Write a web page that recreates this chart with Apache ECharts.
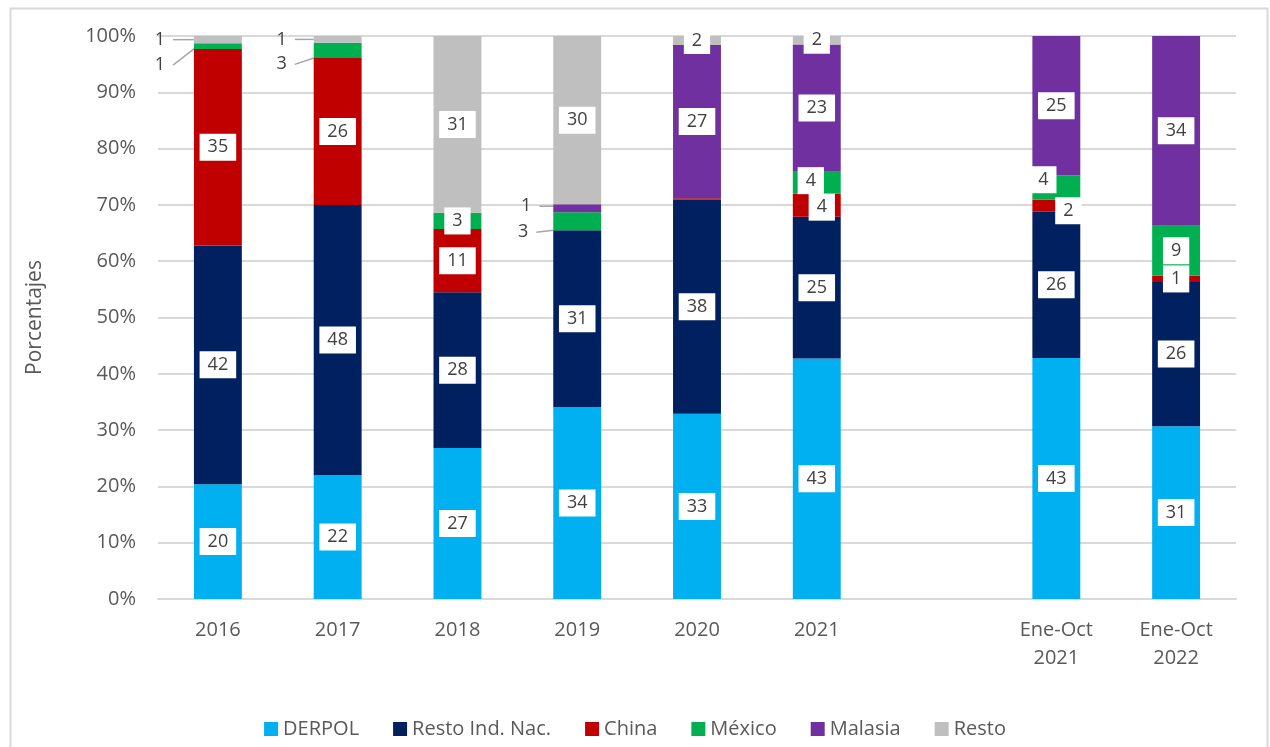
<!DOCTYPE html>
<html>
<head>
<meta charset="utf-8">
<script src="https://cdn.jsdelivr.net/npm/echarts@6/dist/echarts.min.js"></script>
<style>
  html, body { margin: 0; padding: 0; background: #fff; }
  #chart { width: 1270px; height: 747px; }
</style>
</head>
<body>
<div id="chart"></div>
<script>
// categorias (la vacia deja el hueco entre 2021 y Ene-Oct)
const categories = ["2016", "2017", "2018", "2019", "2020", "2021", "", "Ene-Oct\n2021", "Ene-Oct\n2022"];
const yTicks = [0, 10, 20, 30, 40, 50, 60, 70, 80, 90, 100];

// participacion (%) por origen
const derpol   = [20.4, 22.0, 26.8, 34.1, 32.9, 42.7, null, 42.8, 30.7];
const restoInd = [42.4, 48.0, 27.7, 31.4, 38.0, 25.2, null, 26.0, 25.6];
const china    = [34.9, 26.1, 11.2, 0,    0.3,  4.1,  null, 2.1,  1.1];
const mexico   = [1.0,  2.7,  2.9,  3.2,  0,    3.9,  null, 4.3,  8.9];
const malasia  = [0,    0,    0,    1.4,  27.2, 22.6, null, 24.8, 33.7];
const resto    = [1.3,  1.2,  31.4, 29.9, 1.6,  1.5,  null, 0,    0];

const colors = ["#00b0f0", "#002060", "#c00000", "#00b050", "#7030a0", "#bfbfbf"];
const names = ["DERPOL", "Resto Ind. Nac.", "China", "México", "Malasia", "Resto"];
const seriesData = [derpol, restoInd, china, mexico, malasia, resto];

// etiquetas desplazadas: "serie|indice" -> [dx, dy, conLinea]
const labelShift = {
  "5|0": [-58, 0, true],
  "3|0": [-58, 19, true],
  "5|1": [-56, 0, true],
  "3|1": [-56, 14, true],
  "4|3": [-51, -2, true],
  "3|3": [-54, 11, true],
  "3|5": [-6, -2, false],
  "2|5": [5, 2, false],
  "3|7": [-13, -8, false],
  "2|7": [12, 5, false]
};

const chart = echarts.init(document.getElementById("chart"));

const series = seriesData.map((arr, si) => ({
  name: names[si],
  type: "bar",
  stack: "total",
  barWidth: "40%",
  itemStyle: { color: colors[si] },
  label: {
    show: true,
    position: "inside",
    formatter: (p) => String(Math.round(p.value)),
    backgroundColor: "#fff",
    color: "#404040",
    fontSize: 18,
    fontFamily: "Open Sans",
    padding: [5, 8, 4, 8]
  },
  labelLine: { show: true, lineStyle: { color: "#a6a6a6", width: 1.5 } },
  labelLayout: (params) => {
    const s = labelShift[params.seriesIndex + "|" + params.dataIndex];
    if (!s) return {};
    return { dx: s[0], dy: s[1] };
  },
  data: arr.map((v, di) => {
    if (v == null || v < 0.5) return { value: v, label: { show: false }, labelLine: { show: false } };
    const s = labelShift[si + "|" + di];
    if (s && !s[2]) return { value: v, labelLine: { show: false } };
    if (s && s[2]) return { value: v, label: { backgroundColor: "transparent" } };
    return v;
  })
}));

const option = {
  animation: false,
  color: colors,
  textStyle: { fontFamily: "Open Sans" },
  grid: { left: 158, right: 34, top: 36, bottom: 148 },
  graphic: [{
    type: "rect",
    left: 8,
    top: 6,
    shape: { width: 1257, height: 780 },
    style: { fill: "none", stroke: "#d9d9d9", lineWidth: 2 },
    silent: true
  }],
  legend: {
    bottom: 3,
    left: "center",
    icon: "rect",
    itemWidth: 14,
    itemHeight: 14,
    itemGap: 34,
    textStyle: { color: "#595959", fontSize: 20, fontFamily: "Open Sans" },
    data: names
  },
  xAxis: {
    type: "category",
    data: categories,
    axisLine: { lineStyle: { color: "#d9d9d9", width: 2 } },
    axisTick: { show: false },
    axisLabel: { color: "#595959", fontSize: 20, lineHeight: 28, margin: 17, interval: 0 }
  },
  yAxis: {
    type: "value",
    min: yTicks[0],
    max: yTicks[yTicks.length - 1],
    interval: 10,
    name: "Porcentajes",
    nameLocation: "middle",
    nameGap: 112,
    nameTextStyle: { color: "#595959", fontSize: 21 },
    axisLine: { show: false },
    axisTick: { show: false },
    splitLine: { lineStyle: { color: "#d9d9d9", width: 2 } },
    axisLabel: { color: "#595959", fontSize: 20, margin: 22, formatter: "{value}%" }
  },
  series: series
};

chart.setOption(option);
</script>
</body>
</html>
